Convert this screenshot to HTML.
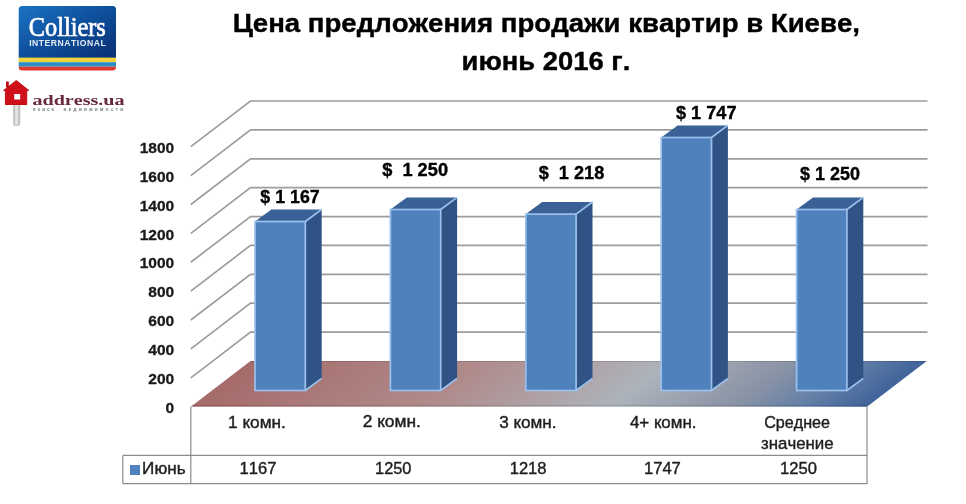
<!DOCTYPE html>
<html><head><meta charset="utf-8"><style>
html,body{margin:0;padding:0;background:#fff;width:966px;height:504px;overflow:hidden}
svg{display:block;will-change:transform}
text{font-family:"Liberation Sans",sans-serif;font-kerning:none}
</style></head><body>
<svg width="966" height="504" viewBox="0 0 966 504">
<defs>
<linearGradient id="fg" gradientUnits="userSpaceOnUse" x1="190.8" y1="406.7" x2="439.1" y2="732.7">
<stop offset="0" stop-color="#a66b6b"/>
<stop offset="0.34" stop-color="#b08a8a"/>
<stop offset="0.62" stop-color="#adb3bb"/>
<stop offset="0.8" stop-color="#8a93a5"/>
<stop offset="0.9" stop-color="#6580a8"/>
<stop offset="1" stop-color="#3f6399"/>
</linearGradient>
</defs>
<path d="M190.8 377.8 L250.5 332.1 L927.5 332.1 M190.8 348.9 L250.5 303.2 L927.5 303.2 M190.8 320.0 L250.5 274.3 L927.5 274.3 M190.8 291.1 L250.5 245.4 L927.5 245.4 M190.8 262.2 L250.5 216.6 L927.5 216.6 M190.8 233.4 L250.5 187.7 L927.5 187.7 M190.8 204.5 L250.5 158.8 L927.5 158.8 M190.8 175.6 L250.5 129.9 L927.5 129.9 M190.8 146.7 L250.5 101.0 L927.5 101.0" fill="none" stroke="#9d9d9d" stroke-width="1.7"/>
<polygon points="190.8,406.7 867.0,406.7 926.7,361.0 250.5,361.0" fill="url(#fg)"/>
<path d="M250.5 361.5 H926.1" stroke="#000" stroke-opacity="0.12" stroke-width="1"/>
<path d="M191.8 405.5 H867.0" stroke="#000" stroke-opacity="0.1" stroke-width="1.6"/>
<polygon points="305.3,221.5 321.7,209.4 321.7,378.4 305.3,390.5" fill="#305385"/>
<polygon points="255.0,221.5 305.3,221.5 321.7,209.4 271.4,209.4" fill="#3a6196"/>
<rect x="255.0" y="221.5" width="50.3" height="169.0" fill="#4f81bd" stroke="#9cc0ec" stroke-width="1.7"/>
<path d="M305.3 221.5 L321.7 209.4 M305.3 390.5 L321.7 378.4" stroke="#9cc0ec" stroke-width="1.7"/>
<polygon points="440.7,209.5 457.1,197.4 457.1,378.4 440.7,390.5" fill="#305385"/>
<polygon points="390.4,209.5 440.7,209.5 457.1,197.4 406.8,197.4" fill="#3a6196"/>
<rect x="390.4" y="209.5" width="50.3" height="181.0" fill="#4f81bd" stroke="#9cc0ec" stroke-width="1.7"/>
<path d="M440.7 209.5 L457.1 197.4 M440.7 390.5 L457.1 378.4" stroke="#9cc0ec" stroke-width="1.7"/>
<polygon points="576.1,214.1 592.5,202.0 592.5,378.4 576.1,390.5" fill="#305385"/>
<polygon points="525.8,214.1 576.1,214.1 592.5,202.0 542.2,202.0" fill="#3a6196"/>
<rect x="525.8" y="214.1" width="50.3" height="176.4" fill="#4f81bd" stroke="#9cc0ec" stroke-width="1.7"/>
<path d="M576.1 214.1 L592.5 202.0 M576.1 390.5 L592.5 378.4" stroke="#9cc0ec" stroke-width="1.7"/>
<polygon points="711.5,137.5 727.9,125.4 727.9,378.4 711.5,390.5" fill="#305385"/>
<polygon points="661.2,137.5 711.5,137.5 727.9,125.4 677.6,125.4" fill="#3a6196"/>
<rect x="661.2" y="137.5" width="50.3" height="253.0" fill="#4f81bd" stroke="#9cc0ec" stroke-width="1.7"/>
<path d="M711.5 137.5 L727.9 125.4 M711.5 390.5 L727.9 378.4" stroke="#9cc0ec" stroke-width="1.7"/>
<polygon points="846.9,209.5 863.3,197.4 863.3,378.4 846.9,390.5" fill="#305385"/>
<polygon points="796.6,209.5 846.9,209.5 863.3,197.4 813.0,197.4" fill="#3a6196"/>
<rect x="796.6" y="209.5" width="50.3" height="181.0" fill="#4f81bd" stroke="#9cc0ec" stroke-width="1.7"/>
<path d="M846.9 209.5 L863.3 197.4 M846.9 390.5 L863.3 378.4" stroke="#9cc0ec" stroke-width="1.7"/>
<path d="M190.8 406.7 V483.6 H867.0 V406.7 M122.8 455.4 H867.0 V483.6 H122.8" fill="none" stroke="#8c8c8c" stroke-width="1.2"/>
<path d="M122.8 455.4 V483.6" stroke="#8c8c8c" stroke-width="1.2"/>
<rect x="130" y="465" width="10" height="10" fill="#4f81bd"/>

<defs>
<linearGradient id="cg" x1="0" y1="0" x2="1" y2="1">
<stop offset="0" stop-color="#1c74c4"/>
<stop offset="0.5" stop-color="#0e4f9c"/>
<stop offset="1" stop-color="#0a2f72"/>
</linearGradient>
<clipPath id="cc"><rect x="18.7" y="6" width="97.3" height="64.6" rx="3.5"/></clipPath>
</defs>
<g clip-path="url(#cc)">
<rect x="18" y="5" width="99" height="53" fill="url(#cg)"/>
<rect x="18" y="57.6" width="99" height="4.6" fill="#f0d23c"/>
<rect x="18" y="62.2" width="99" height="4.5" fill="#2a8fc4"/>
<rect x="18" y="66.7" width="99" height="5" fill="#e03a2e"/>
</g>


<rect x="13.1" y="103" width="7.2" height="23" rx="2.8" fill="#c4c4c4"/>
<rect x="15.2" y="103" width="2.8" height="22" fill="#e4e4e4"/>
<polygon points="3.5,90.5 16.3,80.5 28.8,90.5 26.7,90.5 26.7,104.5 5.4,104.5 5.4,90.5" fill="#cf1019" stroke="#c00d16" stroke-width="1" stroke-linejoin="round"/>
<rect x="6" y="81.5" width="2.8" height="6" fill="#c00d16"/>
<rect x="14.2" y="94" width="6" height="5.5" fill="#fff"/>

<text x="232.65" y="32.00" font-size="26.02" font-weight="bold" textLength="627.29" lengthAdjust="spacingAndGlyphs" fill="#000" stroke="#000" stroke-width="0.4">Цена предложения продажи квартир в Киеве,</text>
<text x="461.60" y="69.60" font-size="25.21" font-weight="bold" textLength="168.78" lengthAdjust="spacingAndGlyphs" fill="#000" stroke="#000" stroke-width="0.4">июнь 2016 г.</text>
<text x="165.61" y="412.91" font-size="14.83" font-weight="bold" textLength="8.63" lengthAdjust="spacingAndGlyphs" fill="#1a1a1a" stroke="#1a1a1a" stroke-width="0.3">0</text>
<text x="148.35" y="384.02" font-size="14.83" font-weight="bold" textLength="25.89" lengthAdjust="spacingAndGlyphs" fill="#1a1a1a" stroke="#1a1a1a" stroke-width="0.3">200</text>
<text x="148.35" y="355.13" font-size="14.83" font-weight="bold" textLength="25.89" lengthAdjust="spacingAndGlyphs" fill="#1a1a1a" stroke="#1a1a1a" stroke-width="0.3">400</text>
<text x="148.35" y="326.24" font-size="14.83" font-weight="bold" textLength="25.89" lengthAdjust="spacingAndGlyphs" fill="#1a1a1a" stroke="#1a1a1a" stroke-width="0.3">600</text>
<text x="148.35" y="297.35" font-size="14.83" font-weight="bold" textLength="25.89" lengthAdjust="spacingAndGlyphs" fill="#1a1a1a" stroke="#1a1a1a" stroke-width="0.3">800</text>
<text x="139.72" y="268.46" font-size="14.83" font-weight="bold" textLength="34.51" lengthAdjust="spacingAndGlyphs" fill="#1a1a1a" stroke="#1a1a1a" stroke-width="0.3">1000</text>
<text x="139.72" y="239.57" font-size="14.83" font-weight="bold" textLength="34.51" lengthAdjust="spacingAndGlyphs" fill="#1a1a1a" stroke="#1a1a1a" stroke-width="0.3">1200</text>
<text x="139.72" y="210.68" font-size="14.83" font-weight="bold" textLength="34.51" lengthAdjust="spacingAndGlyphs" fill="#1a1a1a" stroke="#1a1a1a" stroke-width="0.3">1400</text>
<text x="139.72" y="181.79" font-size="14.83" font-weight="bold" textLength="34.51" lengthAdjust="spacingAndGlyphs" fill="#1a1a1a" stroke="#1a1a1a" stroke-width="0.3">1600</text>
<text x="139.72" y="152.90" font-size="14.83" font-weight="bold" textLength="34.51" lengthAdjust="spacingAndGlyphs" fill="#1a1a1a" stroke="#1a1a1a" stroke-width="0.3">1800</text>
<text x="260.37" y="203.00" font-size="17.88" font-weight="bold" textLength="59.32" lengthAdjust="spacingAndGlyphs" fill="#000" xml:space="preserve" stroke="#000" stroke-width="0.35">$ 1 167</text>
<text x="382.16" y="175.70" font-size="17.88" font-weight="bold" textLength="65.89" lengthAdjust="spacingAndGlyphs" fill="#000" xml:space="preserve" stroke="#000" stroke-width="0.35">$  1 250</text>
<text x="538.66" y="178.60" font-size="17.88" font-weight="bold" textLength="65.60" lengthAdjust="spacingAndGlyphs" fill="#000" xml:space="preserve" stroke="#000" stroke-width="0.35">$  1 218</text>
<text x="675.96" y="118.60" font-size="17.88" font-weight="bold" textLength="60.54" lengthAdjust="spacingAndGlyphs" fill="#000" xml:space="preserve" stroke="#000" stroke-width="0.35">$ 1 747</text>
<text x="800.06" y="179.80" font-size="17.88" font-weight="bold" textLength="60.08" lengthAdjust="spacingAndGlyphs" fill="#000" xml:space="preserve" stroke="#000" stroke-width="0.35">$ 1 250</text>
<text x="228.08" y="428.00" font-size="16.57" font-weight="normal" textLength="57.79" lengthAdjust="spacingAndGlyphs" fill="#1e1e1e" stroke="#1e1e1e" stroke-width="0.4">1 комн.</text>
<text x="362.73" y="427.40" font-size="16.33" font-weight="normal" textLength="58.16" lengthAdjust="spacingAndGlyphs" fill="#1e1e1e" stroke="#1e1e1e" stroke-width="0.4">2 комн.</text>
<text x="499.25" y="427.90" font-size="16.33" font-weight="normal" textLength="57.32" lengthAdjust="spacingAndGlyphs" fill="#1e1e1e" stroke="#1e1e1e" stroke-width="0.4">3 комн.</text>
<text x="629.91" y="427.90" font-size="16.57" font-weight="normal" textLength="66.53" lengthAdjust="spacingAndGlyphs" fill="#1e1e1e" stroke="#1e1e1e" stroke-width="0.4">4+ комн.</text>
<text x="764.18" y="427.50" font-size="16.18" font-weight="normal" textLength="65.84" lengthAdjust="spacingAndGlyphs" fill="#1e1e1e" stroke="#1e1e1e" stroke-width="0.4">Среднее</text>
<text x="761.00" y="449.20" font-size="16.73" font-weight="normal" textLength="72.65" lengthAdjust="spacingAndGlyphs" fill="#1e1e1e" stroke="#1e1e1e" stroke-width="0.4">значение</text>
<text x="239.54" y="474.00" font-size="16.28" font-weight="normal" textLength="36.90" lengthAdjust="spacingAndGlyphs" fill="#1e1e1e" stroke="#1e1e1e" stroke-width="0.4">1167</text>
<text x="375.05" y="474.10" font-size="16.28" font-weight="normal" textLength="36.38" lengthAdjust="spacingAndGlyphs" fill="#1e1e1e" stroke="#1e1e1e" stroke-width="0.4">1250</text>
<text x="509.74" y="474.40" font-size="16.28" font-weight="normal" textLength="36.78" lengthAdjust="spacingAndGlyphs" fill="#1e1e1e" stroke="#1e1e1e" stroke-width="0.4">1218</text>
<text x="643.94" y="474.40" font-size="16.28" font-weight="normal" textLength="36.90" lengthAdjust="spacingAndGlyphs" fill="#1e1e1e" stroke="#1e1e1e" stroke-width="0.4">1747</text>
<text x="780.14" y="474.10" font-size="16.28" font-weight="normal" textLength="36.91" lengthAdjust="spacingAndGlyphs" fill="#1e1e1e" stroke="#1e1e1e" stroke-width="0.4">1250</text>
<text x="142.10" y="473.50" font-size="16.42" font-weight="normal" textLength="43.51" lengthAdjust="spacingAndGlyphs" fill="#1e1e1e" stroke="#1e1e1e" stroke-width="0.4">Июнь</text>
<text x="28.8" y="35.5" style="font-family:'Liberation Serif'" font-size="27" fill="#fff" stroke="#fff" stroke-width="0.7" textLength="77" lengthAdjust="spacingAndGlyphs">Colliers</text>
<text x="29.2" y="46.3" font-size="8.6" font-weight="bold" fill="#e6edf7" textLength="76.5" lengthAdjust="spacing">INTERNATIONAL</text>
<text x="32.5" y="105.2" style="font-family:'Liberation Serif'" font-weight="bold" font-size="15.5" fill="#66283a" textLength="92" lengthAdjust="spacingAndGlyphs">address.ua</text>
<text x="32.7" y="111.4" font-size="4.6" font-weight="bold" fill="#6f7a74" textLength="21" lengthAdjust="spacing">поиск</text>
<text x="63.6" y="111.4" font-size="4.6" font-weight="bold" fill="#6f7a74" textLength="59.6" lengthAdjust="spacing">недвижимости</text>
</svg>
</body></html>
